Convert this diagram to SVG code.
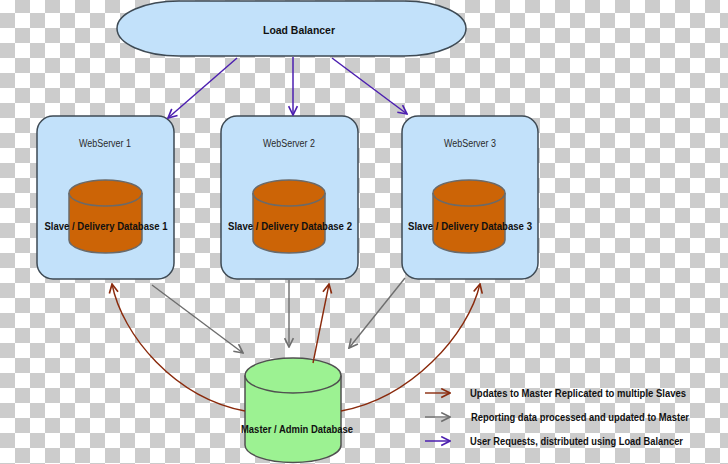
<svg xmlns="http://www.w3.org/2000/svg" width="728" height="464" viewBox="0 0 728 464">
<defs>
<pattern id="checker" patternUnits="userSpaceOnUse" x="0" y="-2" width="30" height="30">
<rect width="30" height="30" fill="#ffffff"/>
<rect x="15" y="0" width="15" height="15" fill="#cccccc"/>
<rect x="0" y="15" width="15" height="15" fill="#cccccc"/>
</pattern>
<marker id="mp" viewBox="0 0 10 10" refX="9" refY="5" markerWidth="11" markerHeight="11" markerUnits="userSpaceOnUse" orient="auto">
<path d="M1,1 L9,5 L1,9" fill="none" stroke="#4c1fb0" stroke-width="1.5"/>
</marker>
<marker id="mg" viewBox="0 0 10 10" refX="9" refY="5" markerWidth="11" markerHeight="11" markerUnits="userSpaceOnUse" orient="auto">
<path d="M1,1 L9,5 L1,9" fill="none" stroke="#6e6e6e" stroke-width="1.5"/>
</marker>
<marker id="mr" viewBox="0 0 10 10" refX="9" refY="5" markerWidth="11" markerHeight="11" markerUnits="userSpaceOnUse" orient="auto">
<path d="M1,1 L9,5 L1,9" fill="none" stroke="#8a2a0c" stroke-width="1.5"/>
</marker>
</defs>
<style>
.box{fill:#c2e1fa;stroke:#3e4a54;stroke-width:1.5}
.slave{fill:#cc6406;stroke:#6a6a6a;stroke-width:1.5}
.master{fill:#9cf292;stroke:#505050;stroke-width:1.5}
.title{font-family:"Liberation Sans",Arial,sans-serif;font-size:10px;fill:#2a2a2a;text-anchor:middle}
.bold{font-family:"Liberation Sans",Arial,sans-serif;font-weight:bold;fill:#111111}
.lbl{font-size:11.5px;text-anchor:middle}
.leg{font-size:10.5px}
.purple{fill:none;stroke:#4c1fb0;stroke-width:1.5;marker-end:url(#mp)}
.gray{fill:none;stroke:#6e6e6e;stroke-width:1.4;marker-end:url(#mg)}
.red{fill:none;stroke:#8a2a0c;stroke-width:1.4;marker-end:url(#mr)}
</style>
<rect width="728" height="464" fill="url(#checker)"/>

<g id="load-balancer">
<rect class="box" x="117" y="1" width="349" height="55" rx="62" ry="27.5"/>
<text class="bold" x="299" y="34" font-size="11.5" text-anchor="middle" textLength="72" lengthAdjust="spacingAndGlyphs">Load Balancer</text>
</g>

<g id="webserver1">
<rect class="box" x="37" y="116" width="137" height="163" rx="16" ry="16"/>
<text class="title" x="105" y="147" textLength="52" lengthAdjust="spacingAndGlyphs">WebServer 1</text>
<path class="slave" d="M69,193 A36.5,13 0 0 1 142,193 L142,240 A36.5,13 0 0 1 69,240 Z"/>
<path d="M69,193 A36.5,13 0 0 0 142,193" fill="none" stroke="#6a6a6a" stroke-width="1.5"/>
<text class="bold lbl" x="106" y="230" textLength="123" lengthAdjust="spacingAndGlyphs">Slave / Delivery Database 1</text>
</g>

<g id="webserver2">
<rect class="box" x="221" y="116" width="137" height="163" rx="16" ry="16"/>
<text class="title" x="289" y="147" textLength="52" lengthAdjust="spacingAndGlyphs">WebServer 2</text>
<path class="slave" d="M253,193 A36,13 0 0 1 325,193 L325,240 A36,13 0 0 1 253,240 Z"/>
<path d="M253,193 A36,13 0 0 0 325,193" fill="none" stroke="#6a6a6a" stroke-width="1.5"/>
<text class="bold lbl" x="290" y="230" textLength="124" lengthAdjust="spacingAndGlyphs">Slave / Delivery Database 2</text>
</g>

<g id="webserver3">
<rect class="box" x="402" y="116" width="136" height="163" rx="16" ry="16"/>
<text class="title" x="470" y="147" textLength="52" lengthAdjust="spacingAndGlyphs">WebServer 3</text>
<path class="slave" d="M433,193 A36,13 0 0 1 505,193 L505,240 A36,13 0 0 1 433,240 Z"/>
<path d="M433,193 A36,13 0 0 0 505,193" fill="none" stroke="#6a6a6a" stroke-width="1.5"/>
<text class="bold lbl" x="470" y="230" textLength="124" lengthAdjust="spacingAndGlyphs">Slave / Delivery Database 3</text>
</g>

<g id="master-db">
<path class="master" d="M245,375.5 A48,17.5 0 0 1 341,375.5 L341,445 A48,17.5 0 0 1 245,445 Z"/>
<path d="M245,375.5 A48,17.5 0 0 0 341,375.5" fill="none" stroke="#505050" stroke-width="1.5"/>
<text class="bold lbl" x="297" y="433" textLength="112" lengthAdjust="spacingAndGlyphs">Master / Admin Database</text>
</g>

<g id="connectors">
<line class="purple" x1="237" y1="58" x2="168" y2="118"/>
<line class="purple" x1="293" y1="57" x2="293" y2="115"/>
<line class="purple" x1="332" y1="58" x2="407" y2="114"/>
<line class="gray" x1="152" y1="285" x2="243" y2="353"/>
<line class="gray" x1="289" y1="280" x2="289" y2="347"/>
<line class="gray" x1="405" y1="278" x2="349" y2="348"/>
<path class="red" d="M245,411 C175,398 122,335 112,284"/>
<path class="red" d="M313,363 L329,284"/>
<path class="red" d="M341,411 C411,398 468,335 480,284"/>
</g>

<g id="legend">
<line class="red" x1="425" y1="393" x2="450" y2="393"/>
<text class="bold leg" x="470" y="397" textLength="216" lengthAdjust="spacingAndGlyphs">Updates to Master Replicated to multiple Slaves</text>
<line class="gray" x1="425" y1="417" x2="450" y2="417"/>
<text class="bold leg" x="471" y="421" textLength="218" lengthAdjust="spacingAndGlyphs">Reporting data processed and updated to Master</text>
<line class="purple" x1="425" y1="441" x2="450" y2="441"/>
<text class="bold leg" x="470" y="445" textLength="213" lengthAdjust="spacingAndGlyphs">User Requests, distributed using Load Balancer</text>
</g>
</svg>
